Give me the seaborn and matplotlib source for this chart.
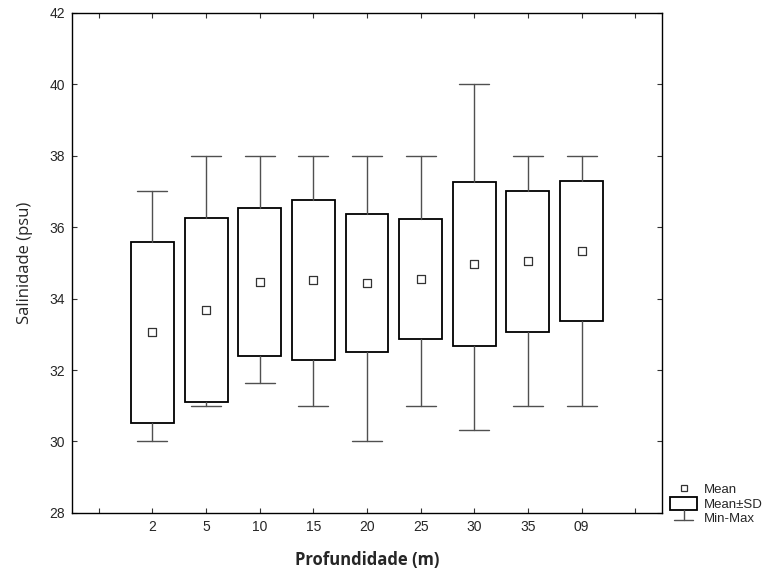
import matplotlib
matplotlib.use("Agg")
import matplotlib.pyplot as plt
import seaborn as sns
import numpy as np
from matplotlib.lines import Line2D
from matplotlib.patches import Patch
from matplotlib.legend_handler import HandlerBase

# depth classes and salinity summaries
depths = ["2", "5", "10", "15", "20", "25", "30", "35", "09"]
means = [33.05, 33.68, 34.47, 34.51, 34.43, 34.54, 34.97, 35.04, 35.34]
sds = [2.53, 2.57, 2.075, 2.235, 1.93, 1.685, 2.295, 1.98, 1.955]
mins = [30.0, 31.0, 31.65, 31.0, 30.0, 31.0, 30.32, 31.0, 31.0]
maxs = [37.0, 38.0, 38.0, 38.0, 38.0, 38.0, 40.0, 38.0, 38.0]
tick_labels = [""] + depths + [""]

sns.set_style("ticks", {"xtick.direction": "in", "ytick.direction": "in"})
plt.rcParams["font.family"] = ["Liberation Sans", "DejaVu Sans"]


class CapHandler(HandlerBase):
    # whisker + cap symbol for the Min-Max entry
    def create_artists(self, legend, orig_handle, xdescent, ydescent,
                       width, height, fontsize, trans):
        cx = width / 2 - xdescent
        y0 = -ydescent + 0.3 * height
        cap = Line2D([cx - 0.35 * width, cx + 0.35 * width], [y0, y0],
                     color="#505050", lw=1.0, transform=trans)
        stem = Line2D([cx, cx], [y0, y0 + 0.8 * height],
                      color="#505050", lw=1.0, transform=trans)
        return [cap, stem]


fig = plt.figure(figsize=(7.73, 5.71), dpi=100)
ax = fig.add_axes([0.0931, 0.1016, 0.7633, 0.8764])

pos = np.arange(1, len(depths) + 1)
stats = []
for d, m, s, lo, hi in zip(depths, means, sds, mins, maxs):
    stats.append(dict(label=d, med=m, q1=m - s, q3=m + s, whislo=lo, whishi=hi, fliers=[]))

ax.bxp(
    stats,
    positions=pos,
    widths=0.8,
    patch_artist=True,
    showfliers=False,
    boxprops=dict(facecolor="white", edgecolor="black", linewidth=1.3),
    whiskerprops=dict(color="#505050", linewidth=1.0),
    capprops=dict(color="#505050", linewidth=1.0),
    medianprops=dict(linewidth=0),
    capwidths=0.56,
)

sns.scatterplot(
    x=pos, y=means, ax=ax, marker="s", s=26, color="white",
    edgecolor="#333333", linewidth=0.9, zorder=4, legend=False,
)

ax.set_xlim(-0.5, 10.5)
ax.set_ylim(28, 42)
ax.set_xticks(range(len(tick_labels)))
ax.set_xticklabels(tick_labels)
ax.set_yticks(np.arange(28, 43, 2))
ax.tick_params(axis="both", which="both", direction="in", length=3.5, width=0.8,
               labelsize=10, top=True, right=True, pad=5, color="#333333")
for sp in ax.spines.values():
    sp.set_linewidth(1.0)
    sp.set_color("black")

ax.set_xlabel("Profundidade (m)", fontsize=12, fontweight="bold",
              family=["Open Sans", "DejaVu Sans"], labelpad=12)
ax.set_ylabel("Salinidade (psu)", fontsize=12,
              family=["Open Sans", "DejaVu Sans"], labelpad=12)

handles = [
    Line2D([], [], marker="s", markersize=5, markerfacecolor="white",
           markeredgecolor="#333333", markeredgewidth=0.9, linestyle="none"),
    Patch(facecolor="white", edgecolor="black", linewidth=1.3),
    object(),
]
fig.legend(handles, ["Mean", "Mean\u00b1SD", "Min-Max"], loc="lower left",
           bbox_to_anchor=(0.857, 0.066), frameon=False, fontsize=9.5,
           handlelength=2.0, handleheight=1.1, handletextpad=0.55,
           labelspacing=0.05, borderpad=0.1,
           handler_map={object: CapHandler()})

fig.savefig("out.png", dpi=100)
